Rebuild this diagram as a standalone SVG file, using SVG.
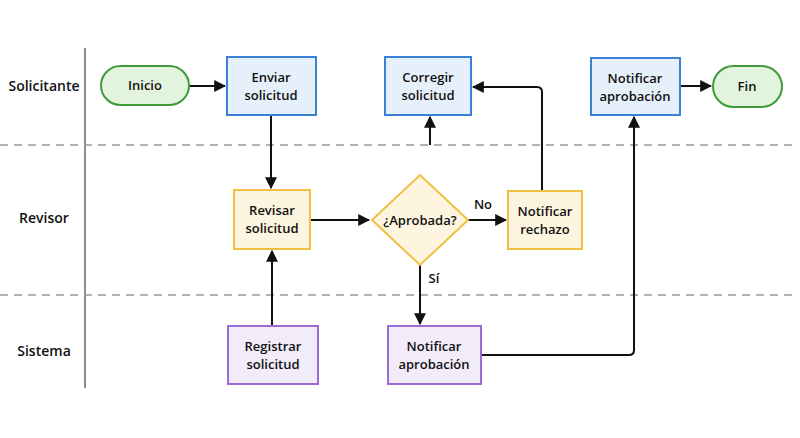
<svg xmlns="http://www.w3.org/2000/svg" width="800" height="438" viewBox="0 0 800 438">
<style>
text{font-family:"Open Sans","Liberation Sans",sans-serif;font-weight:600;font-size:13px;fill:#111;text-anchor:middle}
.lane{font-size:14px}
.blue{fill:#e6f0fb;stroke:#3b82d6;stroke-width:2}
.yel{fill:#fdf5df;stroke:#f0c040;stroke-width:2}
.pur{fill:#f2ecfa;stroke:#9b6bd3;stroke-width:2}
.grn{fill:#e3f4de;stroke:#3e9a3a;stroke-width:2}
.c{fill:none;stroke:#111;stroke-width:2;marker-end:url(#a)}
.sep{stroke:#999;stroke-width:1.5;stroke-dasharray:8 6}
</style>
<defs><marker id="a" viewBox="0 0 10 10" refX="9" refY="5" markerWidth="6" markerHeight="6" orient="auto"><path d="M0,0L10,5L0,10z" fill="#111"/></marker></defs>
<rect width="800" height="438" fill="#fff"/>
<g id="lanes">
<line x1="85" y1="48" x2="85" y2="388" stroke="#666" stroke-width="1.5"/>
<line class="sep" x1="0" y1="145" x2="792" y2="145"/>
<line class="sep" x1="0" y1="295" x2="792" y2="295"/>
<text class="lane" x="44" y="91">Solicitante</text>
<text class="lane" x="44" y="223">Revisor</text>
<text class="lane" x="44" y="356">Sistema</text>
</g>
<g id="connectors">
<path class="c" d="M189,86H225"/>
<path class="c" d="M271,115V188"/>
<path class="c" d="M310,220H369"/>
<path class="c" d="M468,220H506"/>
<path class="c" d="M420,265V324"/>
<path class="c" d="M272,326V251"/>
<path class="c" d="M430,145V117"/>
<path class="c" d="M542,191V92Q542,87 537,87H473"/>
<path class="c" d="M481,355H629Q634,355 634,350V117"/>
<path class="c" d="M680,86H711"/>
<text x="483" y="209">No</text>
<text x="434" y="283">Sí</text>
</g>
<g id="inicio"><rect class="grn" x="101" y="66" width="88" height="39" rx="19.5"/><text x="145" y="90">Inicio</text></g>
<g id="enviar"><rect class="blue" x="227" y="57" width="89" height="58"/><text x="271" y="82">Enviar</text><text x="271" y="100">solicitud</text></g>
<g id="corregir"><rect class="blue" x="385" y="57" width="86" height="58"/><text x="428" y="82">Corregir</text><text x="428" y="100">solicitud</text></g>
<g id="notif-aprob-sol"><rect class="blue" x="591" y="58" width="89" height="57"/><text x="635" y="83">Notificar</text><text x="635" y="101">aprobación</text></g>
<g id="fin"><rect class="grn" x="713" y="66" width="69" height="41" rx="20.5"/><text x="747" y="91">Fin</text></g>
<g id="revisar"><rect class="yel" x="234" y="190" width="76" height="59"/><text x="272" y="215">Revisar</text><text x="272" y="233">solicitud</text></g>
<g id="aprobada"><path class="yel" d="M420,175L468,220L420,265L372,220Z"/><text x="420" y="225">¿Aprobada?</text></g>
<g id="rechazo"><rect class="yel" x="508" y="191" width="74" height="58"/><text x="545" y="216">Notificar</text><text x="545" y="234">rechazo</text></g>
<g id="registrar"><rect class="pur" x="228" y="326" width="90" height="58"/><text x="273" y="351">Registrar</text><text x="273" y="369">solicitud</text></g>
<g id="notif-aprob-sis"><rect class="pur" x="388" y="326" width="93" height="58"/><text x="434" y="351">Notificar</text><text x="434" y="369">aprobación</text></g>
</svg>
